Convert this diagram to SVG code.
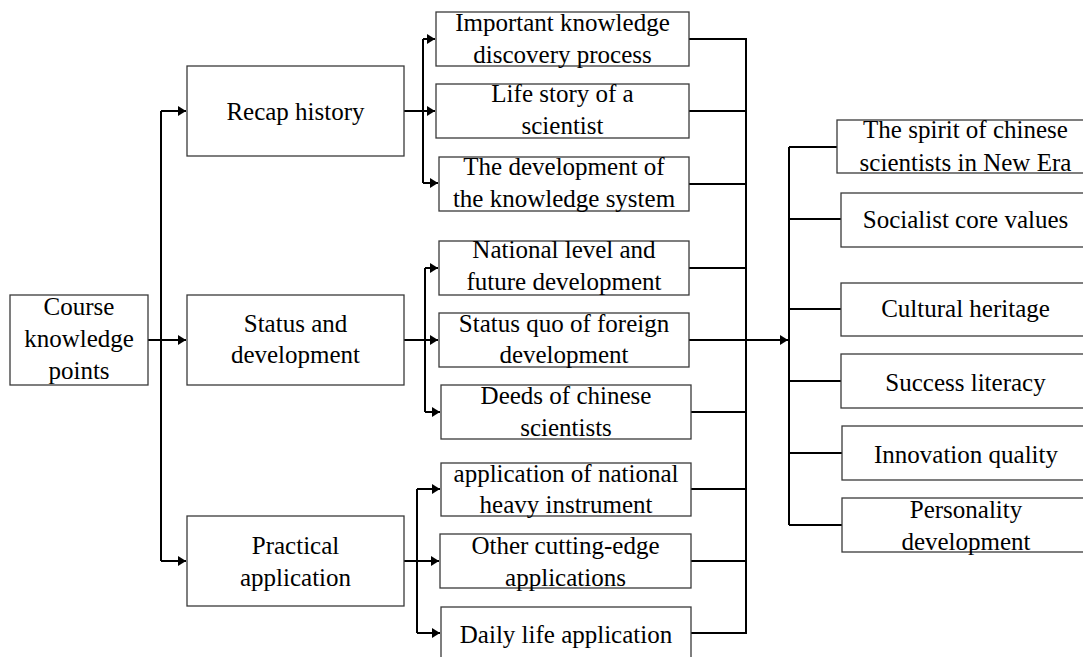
<svg xmlns="http://www.w3.org/2000/svg" width="1083" height="657" viewBox="0 0 1083 657">
<style>
.box{fill:#fff;stroke:#3a3a3a;stroke-width:1.3}
.t{font-family:"Liberation Serif","Times New Roman",serif;font-size:25px;fill:#000;text-anchor:middle}
.c{fill:none;stroke:#000;stroke-width:2}
</style>
<defs>
<marker id="ah" markerUnits="userSpaceOnUse" markerWidth="9" markerHeight="10" refX="8" refY="5" orient="auto"><path d="M0,0 L8,5 L0,10 z" fill="#000"/></marker>
</defs>
<rect width="1083" height="657" fill="#fff"/>
<g id="connectors">
<path class="c" d="M148,340 H186" marker-end="url(#ah)"/>
<path class="c" d="M161,111 V561"/>
<path class="c" d="M161,111 H186" marker-end="url(#ah)"/>
<path class="c" d="M161,561 H186" marker-end="url(#ah)"/>
<path class="c" d="M404,111 H435" marker-end="url(#ah)"/>
<path class="c" d="M423,39 V183"/>
<path class="c" d="M423,39 H435" marker-end="url(#ah)"/>
<path class="c" d="M423,183 H438" marker-end="url(#ah)"/>
<path class="c" d="M404,340 H438" marker-end="url(#ah)"/>
<path class="c" d="M425,268 V412"/>
<path class="c" d="M425,268 H438" marker-end="url(#ah)"/>
<path class="c" d="M425,412 H440" marker-end="url(#ah)"/>
<path class="c" d="M404,561 H439" marker-end="url(#ah)"/>
<path class="c" d="M417,489 V633"/>
<path class="c" d="M417,489 H440" marker-end="url(#ah)"/>
<path class="c" d="M417,633 H440" marker-end="url(#ah)"/>
<path class="c" d="M689,39 H746 V633 H691"/>
<path class="c" d="M689,111 H746"/>
<path class="c" d="M689,184 H746"/>
<path class="c" d="M689,268 H746"/>
<path class="c" d="M691,412 H746"/>
<path class="c" d="M691,489 H746"/>
<path class="c" d="M691,561 H746"/>
<path class="c" d="M689,340 H788" marker-end="url(#ah)"/>
<path class="c" d="M789,147 V525"/>
<path class="c" d="M789,147 H837"/>
<path class="c" d="M789,219 H841"/>
<path class="c" d="M789,309 H841"/>
<path class="c" d="M789,381 H841"/>
<path class="c" d="M789,453 H842"/>
<path class="c" d="M789,525 H842"/>
</g>
<g id="course"><rect class="box" x="10" y="295" width="138" height="90"/><text class="t" x="79" y="315">Course</text><text class="t" x="79" y="347">knowledge</text><text class="t" x="79" y="379">points</text></g>
<g id="recap"><rect class="box" x="187" y="66" width="217" height="90"/><text class="t" x="295.5" y="120">Recap history</text></g>
<g id="status"><rect class="box" x="187" y="295" width="217" height="90"/><text class="t" x="295.5" y="332">Status and</text><text class="t" x="295.5" y="363">development</text></g>
<g id="practical"><rect class="box" x="187" y="516" width="217" height="90"/><text class="t" x="295.5" y="554">Practical</text><text class="t" x="295.5" y="586">application</text></g>
<g id="k1"><rect class="box" x="436" y="12" width="253" height="54"/><text class="t" x="562.5" y="31">Important knowledge</text><text class="t" x="562.5" y="63">discovery process</text></g>
<g id="k2"><rect class="box" x="436" y="84" width="253" height="54"/><text class="t" x="562.5" y="102">Life story of a</text><text class="t" x="562.5" y="134">scientist</text></g>
<g id="k3"><rect class="box" x="439" y="157" width="250" height="54"/><text class="t" x="564" y="175">The development  of</text><text class="t" x="564" y="207">the knowledge system</text></g>
<g id="s1"><rect class="box" x="439" y="241" width="250" height="54"/><text class="t" x="564" y="258">National level and</text><text class="t" x="564" y="290">future development</text></g>
<g id="s2"><rect class="box" x="439" y="313" width="250" height="54"/><text class="t" x="564" y="332">Status quo of foreign</text><text class="t" x="564" y="363">development</text></g>
<g id="s3"><rect class="box" x="441" y="385" width="250" height="54"/><text class="t" x="566" y="404">Deeds of chinese</text><text class="t" x="566" y="436">scientists</text></g>
<g id="p1"><rect class="box" x="441" y="463" width="250" height="53"/><text class="t" x="566" y="482">application of national</text><text class="t" x="566" y="513">heavy instrument</text></g>
<g id="p2"><rect class="box" x="440" y="534" width="251" height="54"/><text class="t" x="565.5" y="554">Other cutting-edge</text><text class="t" x="565.5" y="586">applications</text></g>
<g id="p3"><rect class="box" x="441" y="607" width="250" height="60"/><text class="t" x="566" y="643">Daily life application</text></g>
<g id="r1"><rect class="box" x="837" y="120" width="253" height="53"/><text class="t" x="965.5" y="138">The spirit of chinese</text><text class="t" x="965.5" y="171">scientists in New Era</text></g>
<g id="r2"><rect class="box" x="841" y="193" width="249" height="54"/><text class="t" x="965.5" y="228">Socialist core values</text></g>
<g id="r3"><rect class="box" x="841" y="283" width="249" height="53"/><text class="t" x="965.5" y="317">Cultural heritage</text></g>
<g id="r4"><rect class="box" x="841" y="354" width="249" height="54"/><text class="t" x="965.5" y="391">Success literacy</text></g>
<g id="r5"><rect class="box" x="842" y="426" width="248" height="54"/><text class="t" x="966" y="463">Innovation quality</text></g>
<g id="r6"><rect class="box" x="842" y="498" width="248" height="54"/><text class="t" x="966" y="518">Personality</text><text class="t" x="966" y="550">development</text></g>
</svg>
